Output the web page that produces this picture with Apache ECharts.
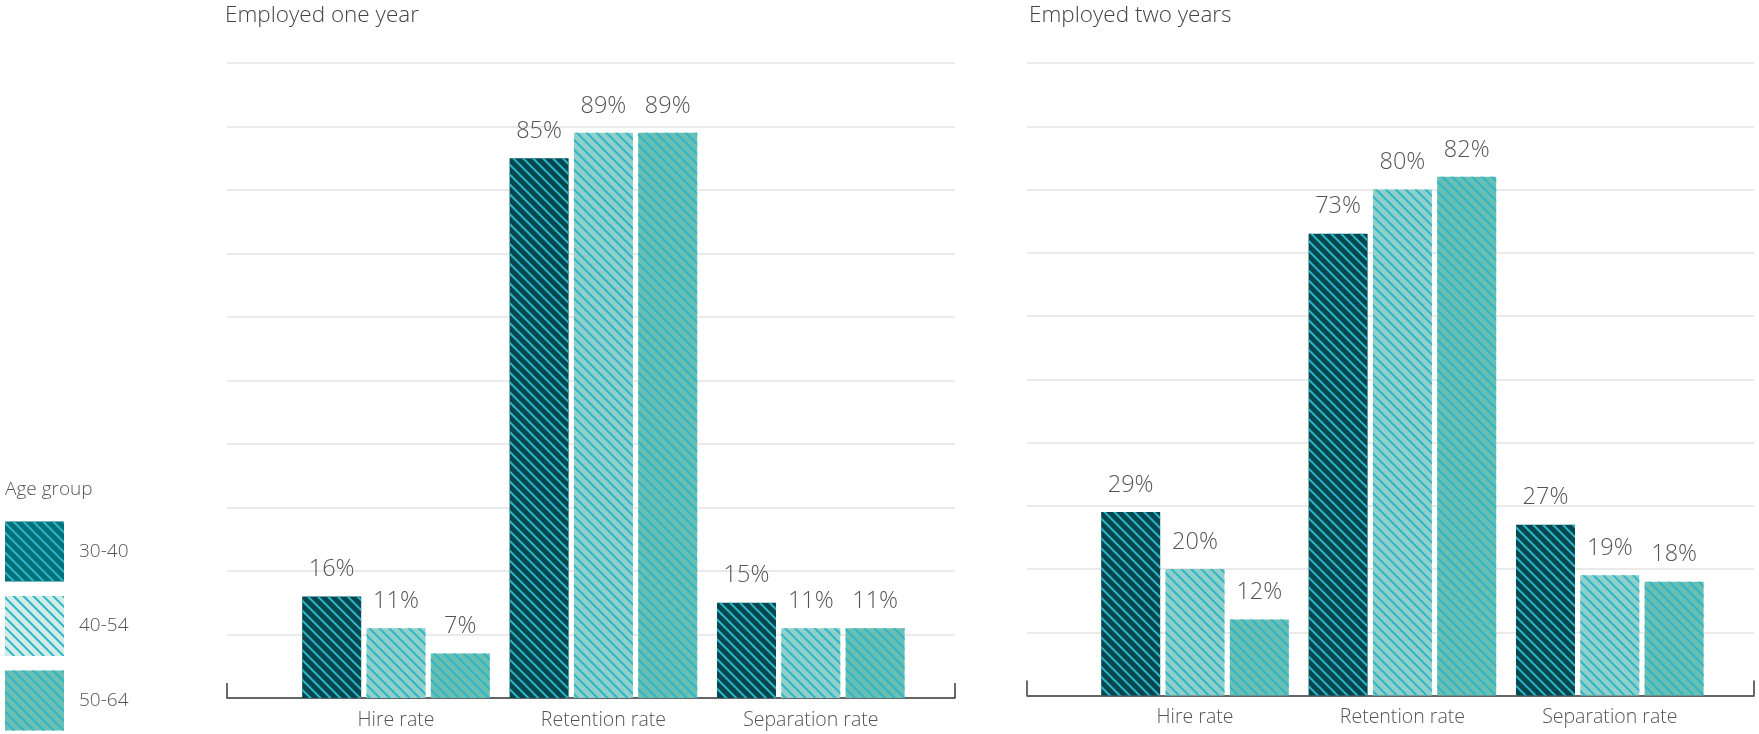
<!DOCTYPE html>
<html>
<head>
<meta charset="utf-8">
<script src="https://cdn.jsdelivr.net/npm/echarts@6/dist/echarts.min.js"></script>
<style>
html,body{margin:0;padding:0;background:#fff;}
#chart{width:1759px;height:734px;}
</style>
</head>
<body>
<div id="chart"></div>
<script>
// ---- data ----
const categories = ['Hire rate', 'Retention rate', 'Separation rate'];
const ageGroups = ['30-40', '40-54', '50-64'];
const panelTitles = ['Employed one year', 'Employed two years'];
const legendTitle = 'Age group';
const oneYear_30_40 = [16, 85, 15];
const oneYear_40_54 = [11, 89, 11];
const oneYear_50_64 = [7, 89, 11];
const twoYears_30_40 = [29, 73, 27];
const twoYears_40_54 = [20, 80, 19];
const twoYears_50_64 = [12, 82, 18];
const yMin = 0, yMax = 100, yInterval = 10;

// ---- styles ----
const FONT = '"Open Sans", "Noto Sans", sans-serif';
const TEXT = '#555555';
const barColors = ['#03474f', '#8fd0ca', '#68bfb2'];
const legendColors = ['#007178', '#d2ece7', '#6cc0b2'];
const stripe = '#2fb4c8';

const chart = echarts.init(document.getElementById('chart'), null, {renderer: 'canvas'});

const panels = [
  {bg: {left: 227, width: 728, top: 63, bottom: 36}, bars: {left: 292.3, width: 622.2, top: 63, bottom: 36},
   data: [oneYear_30_40, oneYear_40_54, oneYear_50_64], title: {left: 225}},
  {bg: {left: 1027, width: 727, top: 63, bottom: 38.5}, bars: {left: 1091.3, width: 622.2, top: 63, bottom: 38.5},
   data: [twoYears_30_40, twoYears_40_54, twoYears_50_64], title: {left: 1029}}
];

const grids = [], xAxes = [], yAxes = [], series = [], titles = [];
panels.forEach((p, pi) => {
  const gBg = grids.length;
  grids.push(Object.assign({containLabel: false}, p.bg));
  const gBar = grids.length;
  grids.push(Object.assign({containLabel: false}, p.bars));
  // background axes: gridlines + bracket axis
  xAxes.push({
    type: 'category', gridIndex: gBg, data: [''], boundaryGap: true,
    axisLine: {show: true, lineStyle: {color: '#3a3a3a', width: 1.5}},
    axisTick: {show: true, inside: true, length: 15, alignWithLabel: false, lineStyle: {color: '#3a3a3a', width: 1.5}},
    axisLabel: {show: false}, splitLine: {show: false}
  });
  yAxes.push({
    type: 'value', gridIndex: gBg, min: yMin, max: yMax, interval: yInterval,
    axisLine: {show: false}, axisTick: {show: false}, axisLabel: {show: false},
    splitLine: {show: true, lineStyle: {color: '#e3e3e3', width: 1.5}}
  });
  // bar axes
  const xi = xAxes.length;
  xAxes.push({
    type: 'category', gridIndex: gBar, data: categories,
    axisLine: {show: false}, axisTick: {show: false},
    axisLabel: {color: TEXT, fontSize: 19.5, fontFamily: FONT, fontWeight: 300, margin: 12}
  });
  const yi = yAxes.length;
  yAxes.push({
    type: 'value', gridIndex: gBar, min: yMin, max: yMax, interval: yInterval,
    axisLine: {show: false}, axisTick: {show: false}, axisLabel: {show: false}, splitLine: {show: false}
  });
  p.data.forEach((vals, si) => {
    series.push({
      type: 'bar', name: ageGroups[si], xAxisIndex: xi, yAxisIndex: yi,
      data: vals, barWidth: 59, barGap: '9%',
      itemStyle: {
        color: barColors[si],
        decal: {symbol: 'rect', symbolSize: 1, dashArrayX: [1, 0], dashArrayY: [2, 5],
                rotation: Math.PI / 4, color: stripe}
      },
      label: {show: true, position: 'top', distance: 15, formatter: '{c}%',
               color: TEXT, fontSize: 23.5, fontFamily: FONT, fontWeight: 300},
      emphasis: {disabled: true}
    });
  });
  titles.push({
    text: panelTitles[pi], left: p.title.left, top: 4, padding: 0,
    textStyle: {color: '#444', fontSize: 22.5, fontWeight: 300, fontFamily: FONT}
  });
});
titles.push({
  text: legendTitle, left: 5, top: 480, padding: 0,
  textStyle: {color: TEXT, fontSize: 19, fontWeight: 300, fontFamily: FONT}
});

chart.setOption({
  animation: false,
  aria: {enabled: true, decal: {show: true}},
  title: titles,
  legend: {
    orient: 'vertical', left: 5, top: 521.5, padding: 0,
    itemWidth: 59, itemHeight: 60, itemGap: 14.5, icon: 'rect',
    selectedMode: false,
    data: ageGroups.map((n, i) => ({name: n, icon: 'rect', itemStyle: {color: legendColors[i]}})),
    textStyle: {color: TEXT, fontSize: 19, fontFamily: FONT, fontWeight: 300, padding: [0, 0, 0, 10]}
  },
  grid: grids,
  xAxis: xAxes,
  yAxis: yAxes,
  series: series
});
</script>
</body>
</html>
